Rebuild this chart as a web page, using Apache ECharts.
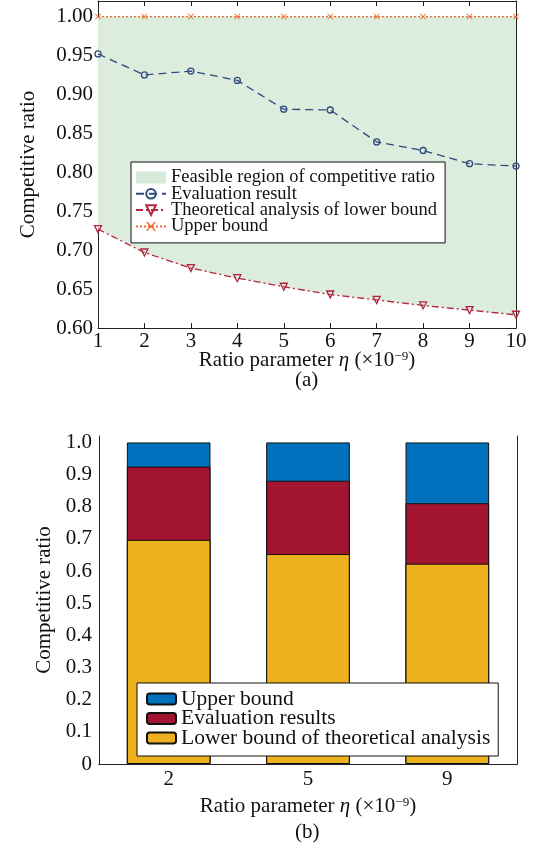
<!DOCTYPE html>
<html>
<head>
<meta charset="utf-8">
<script src="https://cdn.jsdelivr.net/npm/echarts@6/dist/echarts.min.js"></script>
<style>
html, body { margin: 0; padding: 0; background: #fff; }
#chart-a { position: absolute; left: 0; top: 0; width: 543px; height: 400px; }
#chart-b { position: absolute; left: 0; top: 400px; width: 543px; height: 450px; }
</style>
</head>
<body>
<div id="chart-a"></div>
<div id="chart-b"></div>
<script>
// (a) line chart data
var eta = ['1', '2', '3', '4', '5', '6', '7', '8', '9', '10'];
var evalResult = [0.952, 0.925, 0.930, 0.918, 0.881, 0.880, 0.839, 0.828, 0.811, 0.808];
var lowerBound = [0.727, 0.697, 0.677, 0.664, 0.653, 0.643, 0.636, 0.629, 0.623, 0.617];
var upperBound = [1, 1, 1, 1, 1, 1, 1, 1, 1, 1];

// (b) bar chart data
var barEta = ['2', '5', '9'];
var barUpper = [1, 1, 1];
var barEval = [0.925, 0.881, 0.811];
var barLower = [0.697, 0.653, 0.623];

var font = "'Liberation Serif', 'Times New Roman', serif";
var axisColor = '#222';
var xName = '{n|Ratio parameter }{i|η}{n| (×10}{s|−9}{n|)}';
var xNameRich = {
	n : { fontFamily : font, fontSize : 21, color : '#111' },
	i : { fontFamily : font, fontSize : 21, fontStyle : 'italic', color : '#111' },
	s : { fontFamily : font, fontSize : 13, color : '#111', verticalAlign : 'top', padding : [ 0, 0, 7, 0 ] }
};

var chartA = echarts.init(document.getElementById('chart-a'));
var chartB = echarts.init(document.getElementById('chart-b'));

var optionA = {
	animation : false,
	grid : { left : 98, right : 27, top : 1, height : 327 },
	legend : {
		orient : 'vertical',
		left : 131,
		top : 162,
		padding : [ 6, 8, 7, 4 ],
		itemGap : -2.7,
		itemWidth : 30,
		itemHeight : 12,
		borderColor : '#111',
		borderWidth : 1,
		backgroundColor : '#fff',
		textStyle : { fontFamily : font, fontSize : 18.5, color : '#111' },
		data : [ {
			name : 'Feasible region of competitive ratio',
			icon : 'rect',
			itemStyle : { color : '#d6ead8', borderWidth : 0 }
		}, 'Evaluation result', 'Theoretical analysis of lower bound', 'Upper bound' ]
	},
	xAxis : [ {
		type : 'category',
		data : eta,
		boundaryGap : false,
		name : xName,
		nameLocation : 'middle',
		nameGap : 22,
		nameMoveOverlap : false,
		nameTextStyle : { rich : xNameRich },
		axisLine : { lineStyle : { color : axisColor } },
		axisTick : { inside : true, length : 5, lineStyle : { color : axisColor } },
		axisLabel : { fontFamily : font, fontSize : 21, color : '#111', margin : 3 },
		splitLine : { show : false }
	}, {
		type : 'category',
		data : eta,
		boundaryGap : false,
		position : 'top',
		axisLine : { show : true, lineStyle : { color : axisColor } },
		axisTick : { inside : true, length : 5, lineStyle : { color : axisColor } },
		axisLabel : { show : false },
		splitLine : { show : false }
	} ],
	yAxis : [ {
		type : 'value',
		min : 0.6,
		max : 1.02,
		interval : 0.05,
		name : 'Competitive ratio',
		nameLocation : 'middle',
		nameGap : 59,
		nameTextStyle : { fontFamily : font, fontSize : 21, color : '#111' },
		axisLine : { show : true, lineStyle : { color : axisColor } },
		axisTick : { inside : true, length : 5, lineStyle : { color : axisColor } },
		axisLabel : {
			fontFamily : font, fontSize : 21, color : '#111', margin : 5,
			showMaxLabel : false,
			formatter : function(v) { return v.toFixed(2); }
		},
		splitLine : { show : false }
	}, {
		type : 'value',
		position : 'right',
		min : 0.6,
		max : 1.02,
		interval : 0.05,
		axisLine : { show : true, lineStyle : { color : axisColor } },
		axisTick : { inside : true, length : 5, lineStyle : { color : axisColor } },
		axisLabel : { show : false },
		splitLine : { show : false }
	} ],
	series : [ {
		name : 'Theoretical analysis of lower bound',
		type : 'line',
		stack : 'region',
		z : 4,
		data : lowerBound,
		symbol : 'triangle',
		symbolRotate : 180,
		symbolSize : 7,
		lineStyle : { color : '#b3253f', width : 1.3, type : [ 7, 3, 2, 3 ] },
		itemStyle : { color : 'rgba(0,0,0,0)', borderColor : '#b3253f', borderWidth : 1.3 }
	}, {
		name : 'Feasible region of competitive ratio',
		type : 'line',
		stack : 'region',
		z : 1,
		data : upperBound.map(function(u, i) { return u - lowerBound[i]; }),
		symbol : 'none',
		lineStyle : { width : 0, opacity : 0 },
		itemStyle : { color : '#d6ead8' },
		areaStyle : { color : '#dcecdd', opacity : 1 }
	}, {
		name : 'Evaluation result',
		type : 'line',
		z : 4,
		data : evalResult,
		symbol : 'circle',
		symbolSize : 6,
		lineStyle : { color : '#2f4a7c', width : 1.3, type : [ 8, 5 ] },
		itemStyle : { color : 'rgba(0,0,0,0)', borderColor : '#2f4a7c', borderWidth : 1.3 }
	}, {
		name : 'Upper bound',
		type : 'line',
		z : 4,
		data : upperBound,
		symbol : 'path://M0,1L1,0L5,4L9,0L10,1L6,5L10,9L9,10L5,6L1,10L0,9L4,5Z',
		symbolSize : 6,
		lineStyle : { color : '#ef6a2c', width : 1.3, type : [ 2, 2 ] },
		itemStyle : { color : '#ef6a2c' }
	} ],
	graphic : [ {
		type : 'text',
		left : 295,
		top : 370,
		style : { text : '(a)', font : '21px ' + font, fill : '#111' }
	} ]
};

var optionB = {
	animation : false,
	grid : { left : 99, right : 26, top : 36, bottom : 86 },
	legend : {
		orient : 'vertical',
		left : 137,
		top : 283,
		padding : [ 5, 8, 7, 9 ],
		itemGap : -2.5,
		itemWidth : 29,
		itemHeight : 11,
		borderColor : '#111',
		borderWidth : 1,
		backgroundColor : '#fff',
		textStyle : { fontFamily : font, fontSize : 21.5, color : '#111' },
		data : [ 'Upper bound', 'Evaluation results', 'Lower bound of theoretical analysis' ]
	},
	xAxis : [ {
		type : 'category',
		data : barEta,
		name : xName,
		nameLocation : 'middle',
		nameGap : 32,
		nameMoveOverlap : false,
		nameTextStyle : { rich : xNameRich },
		axisLine : { lineStyle : { color : axisColor } },
		axisTick : { show : false },
		axisLabel : { fontFamily : font, fontSize : 21, color : '#111', margin : 5 }
	}, {
		type : 'category',
		data : barEta,
		position : 'top',
		axisLine : { show : true, lineStyle : { color : axisColor } },
		axisTick : { inside : true, alignWithLabel : true, length : 5, lineStyle : { color : axisColor } },
		axisLabel : { show : false }
	} ],
	yAxis : [ {
		type : 'value',
		min : 0,
		max : 1.02,
		interval : 0.1,
		name : 'Competitive ratio',
		nameLocation : 'middle',
		nameGap : 43,
		nameTextStyle : { fontFamily : font, fontSize : 21, color : '#111' },
		axisLine : { show : true, lineStyle : { color : axisColor } },
		axisTick : { inside : true, length : 5, lineStyle : { color : axisColor } },
		axisLabel : {
			fontFamily : font, fontSize : 21, color : '#111', margin : 7,
			showMaxLabel : false,
			formatter : function(v) { return v === 0 ? '0' : v.toFixed(1); }
		},
		splitLine : { show : false }
	}, {
		type : 'value',
		position : 'right',
		min : 0,
		max : 1.02,
		interval : 0.1,
		axisLine : { show : true, lineStyle : { color : axisColor } },
		axisTick : { inside : true, length : 5, lineStyle : { color : axisColor } },
		axisLabel : { show : false },
		splitLine : { show : false }
	} ],
	series : [ {
		name : 'Upper bound',
		type : 'bar',
		data : barUpper,
		barWidth : '60%',
		barGap : '-100%',
		itemStyle : { color : '#0072bd', borderColor : '#111', borderWidth : 1 }
	}, {
		name : 'Evaluation results',
		type : 'bar',
		data : barEval,
		barWidth : '60%',
		barGap : '-100%',
		itemStyle : { color : '#a2142f', borderColor : '#111', borderWidth : 1 }
	}, {
		name : 'Lower bound of theoretical analysis',
		type : 'bar',
		data : barLower,
		barWidth : '60%',
		barGap : '-100%',
		itemStyle : { color : '#edb120', borderColor : '#111', borderWidth : 1 }
	} ],
	graphic : [ {
		type : 'text',
		left : 295,
		top : 422,
		style : { text : '(b)', font : '21px ' + font, fill : '#111' }
	} ]
};

chartA.setOption(optionA);
chartB.setOption(optionB);
</script>
</body>
</html>
